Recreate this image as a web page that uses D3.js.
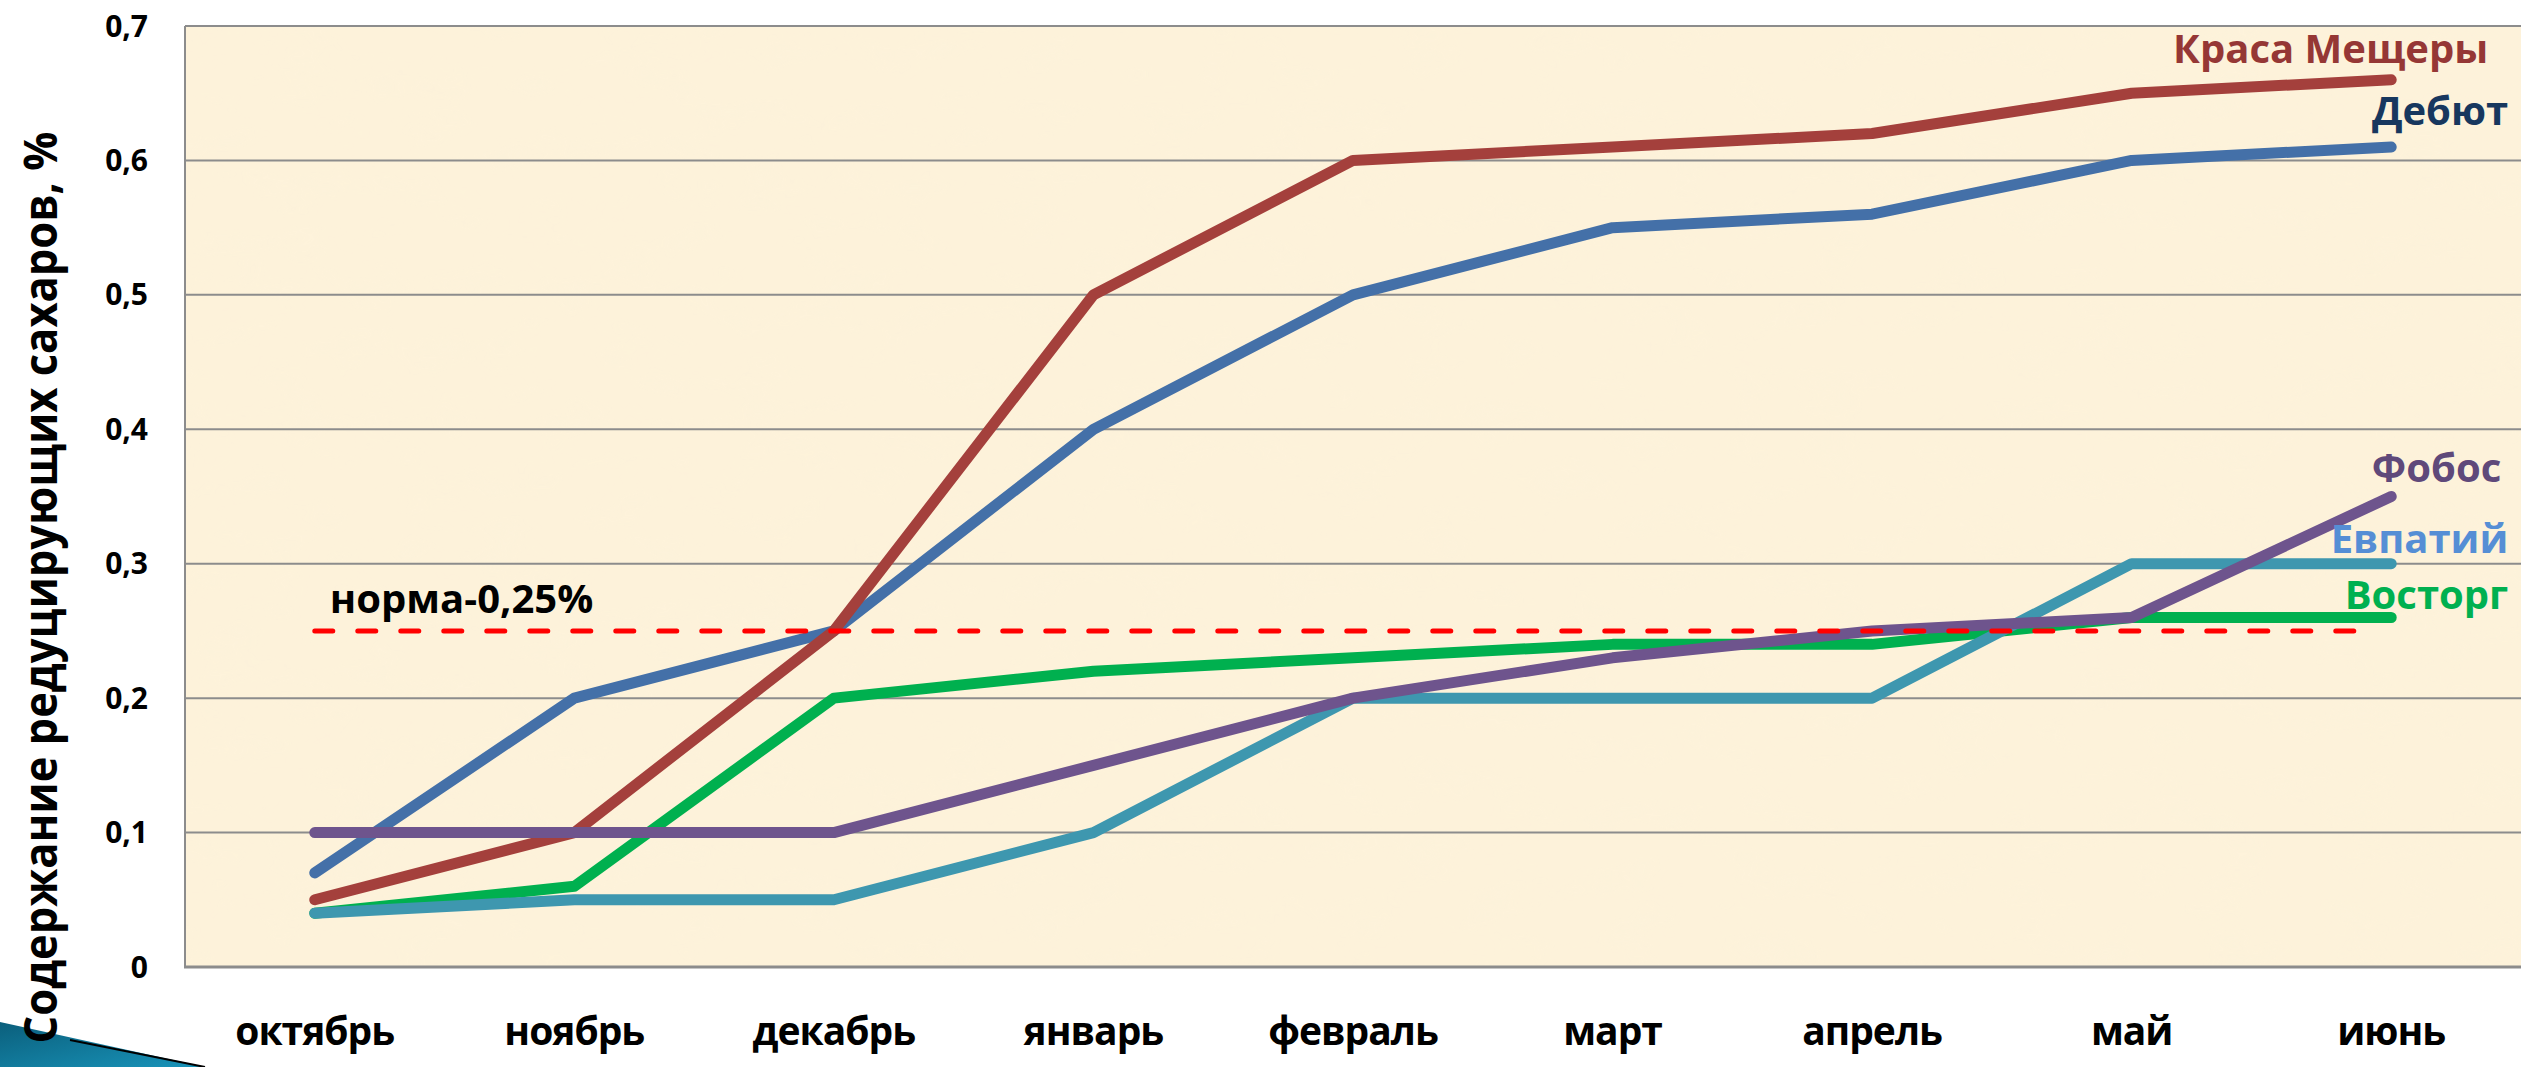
<!DOCTYPE html>
<html>
<head>
<meta charset="utf-8">
<script src="https://cdn.jsdelivr.net/npm/d3@7"></script>
<style>
  html, body { margin: 0; padding: 0; background: #fff; }
  svg { display: block; font-family: "Open Sans", "Noto Sans", sans-serif; font-weight: bold; }
</style>
</head>
<body>
<svg id="chart" width="2534" height="1067"></svg>
<script>
// months on the x axis
var months = ["октябрь", "ноябрь", "декабрь", "январь", "февраль", "март", "апрель", "май", "июнь"];

// sugar content per variety, %
var krasaMeschery = [0.05, 0.10, 0.25, 0.50, 0.60, 0.61, 0.62, 0.65, 0.66];
var debut         = [0.07, 0.20, 0.25, 0.40, 0.50, 0.55, 0.56, 0.60, 0.61];
var fobos         = [0.10, 0.10, 0.10, 0.15, 0.20, 0.23, 0.25, 0.26, 0.35];
var evpatiy       = [0.04, 0.05, 0.05, 0.10, 0.20, 0.20, 0.20, 0.30, 0.30];
var vostorg       = [0.04, 0.06, 0.20, 0.22, 0.23, 0.24, 0.24, 0.26, 0.26];

var yTicks = [0, 0.1, 0.2, 0.3, 0.4, 0.5, 0.6, 0.7];
var norm = 0.25;
var normLabel = "норма-0,25%";
var yTitle = "Содержание редуцирующих сахаров, %";

// drawing order matters: later ones sit on top
var series = [
  {name: "Восторг",       values: vostorg,       line: "#00B04F", text: "#00B050", dy: -8},
  {name: "Евпатий",       values: evpatiy,       line: "#3E97AF", text: "#558ED5", dy: -11},
  {name: "Дебют",         values: debut,         line: "#4470A8", text: "#17375E", dy: -22},
  {name: "Краса Мещеры",  values: krasaMeschery, line: "#A4403C", text: "#953735", dy: -17, dx: -20},
  {name: "Фобос",         values: fobos,         line: "#6E548D", text: "#5F497A", dy: -15, dx: -7}
];

var svg = d3.select("#chart");
var margin = {left: 185, top: 26, right: 13, bottom: 100};
var W = 2534, H = 1067;

var x = d3.scalePoint().domain(months).range([margin.left, W - margin.right]).padding(0.5);
var y = d3.scaleLinear().domain([0, 0.7]).range([H - margin.bottom, margin.top]);

// parchment texture
var defs = svg.append("defs");
var f = defs.append("filter").attr("id", "paper").attr("x", 0).attr("y", 0).attr("width", 1).attr("height", 1);
f.append("feTurbulence").attr("type", "fractalNoise").attr("baseFrequency", "0.015 0.03").attr("numOctaves", 3).attr("seed", 7).attr("result", "n");
f.append("feColorMatrix").attr("in", "n").attr("type", "matrix")
  .attr("values", "0 0 0 0 0.96  0 0 0 0 0.90  0 0 0 0 0.74  0 0 0 -0.9 0.5");
var grad = defs.append("linearGradient").attr("id", "wedge").attr("x1", 0).attr("y1", 0).attr("x2", 1).attr("y2", 1);
grad.append("stop").attr("offset", "0%").attr("stop-color", "#0B5F7C");
grad.append("stop").attr("offset", "100%").attr("stop-color", "#1894BA");

var plotW = W - margin.right - margin.left;
svg.append("rect")
  .attr("x", margin.left).attr("y", margin.top)
  .attr("width", plotW).attr("height", y(0) - margin.top)
  .attr("fill", "#FDF2DA");
svg.append("rect")
  .attr("x", margin.left).attr("y", margin.top)
  .attr("width", plotW).attr("height", y(0) - margin.top)
  .attr("filter", "url(#paper)").attr("opacity", 0.25);

// gridlines
svg.append("g").selectAll("line.grid").data(yTicks.filter(function(d) { return d > 0; }))
  .enter().append("line")
  .attr("class", "grid")
  .attr("x1", margin.left).attr("x2", W - margin.right)
  .attr("y1", y).attr("y2", y)
  .attr("stroke", "#8C8C8C").attr("stroke-width", 2);

// axes lines
svg.append("line").attr("x1", margin.left).attr("x2", margin.left)
  .attr("y1", margin.top).attr("y2", y(0))
  .attr("stroke", "#8C8C8C").attr("stroke-width", 2);
svg.append("line").attr("x1", margin.left - 1).attr("x2", W - margin.right)
  .attr("y1", y(0)).attr("y2", y(0))
  .attr("stroke", "#8C8C8C").attr("stroke-width", 3);

// y tick labels
svg.append("g").selectAll("text").data(yTicks).enter().append("text")
  .attr("x", margin.left - 37).attr("y", y)
  .attr("dy", "0.35em")
  .attr("text-anchor", "end")
  .style("font-size", "30px")
  .text(function(d) { return d === 0 ? "0" : d3.format(".1f")(d).replace(".", ","); });

// x labels
svg.append("g").selectAll("text").data(months).enter().append("text")
  .attr("x", x).attr("y", 1045)
  .attr("text-anchor", "middle")
  .style("font-size", "39px")
  .attr("letter-spacing", "-1")
  .text(function(d) { return d; });

// lines
var line = d3.line()
  .x(function(d, i) { return x(months[i]); })
  .y(function(d) { return y(d); });

svg.append("g").selectAll("path").data(series).enter().append("path")
  .attr("d", function(s) { return line(s.values); })
  .attr("fill", "none")
  .attr("stroke", function(s) { return s.line; })
  .attr("stroke-width", 11)
  .attr("stroke-linecap", "round")
  .attr("stroke-linejoin", "round");

// norm line
svg.append("line")
  .attr("x1", x(months[0])).attr("x2", x(months[months.length - 1]) - 15)
  .attr("y1", y(norm)).attr("y2", y(norm))
  .attr("stroke", "#FF0000").attr("stroke-width", 5)
  .attr("stroke-dasharray", "18,25")
  .attr("stroke-linecap", "round");
svg.append("text")
  .attr("x", x(months[0]) + 15).attr("y", y(norm) - 18)
  .style("font-size", "40px")
  .attr("fill", "#000")
  .text(normLabel);

// series labels
var last = months[months.length - 1];
svg.append("g").selectAll("text").data(series).enter().append("text")
  .attr("x", function(s) { return x(last) + 117 + (s.dx || 0); })
  .attr("y", function(s) { return y(s.values[s.values.length - 1]) + s.dy; })
  .attr("text-anchor", "end")
  .attr("fill", function(s) { return s.text; })
  .style("font-size", "40px")
  .text(function(s) { return s.name; });

// decorative wedge bottom-left
svg.append("path")
  .attr("d", "M0,1022 L205,1067 L0,1067 Z")
  .attr("fill", "url(#wedge)");
svg.append("path")
  .attr("d", "M70,1040 L205,1067")
  .attr("stroke", "#000").attr("stroke-width", 2).attr("fill", "none");

// y title, drawn over the wedge
svg.append("text")
  .attr("transform", "translate(57," + ((130 + 1045) / 2) + ") rotate(-90)")
  .attr("text-anchor", "middle")
  .attr("textLength", 912).attr("lengthAdjust", "spacingAndGlyphs")
  .style("font-size", "46px")
  .text(yTitle);
</script>
</body>
</html>
